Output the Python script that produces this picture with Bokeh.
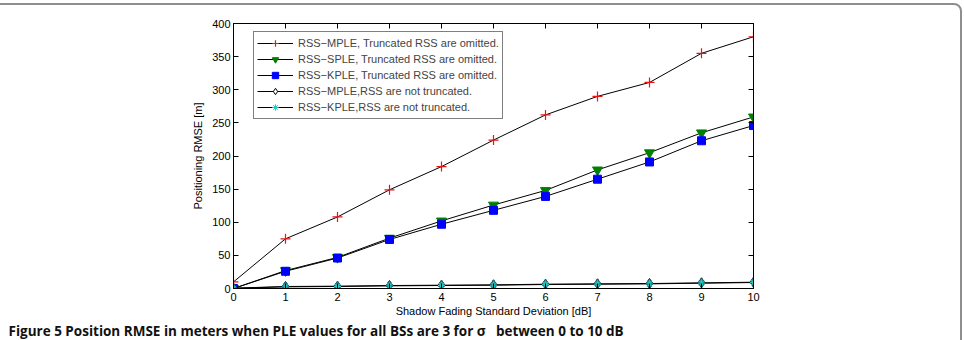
from bokeh.plotting import figure
from bokeh.models import (ColumnDataSource, Range1d, LinearAxis, FixedTicker, Legend,
                          LegendItem, Title, CustomJSTickFormatter, GlobalInlineStyleSheet)
from bokeh.embed import file_html
from bokeh.resources import INLINE

# ---------------- data ----------------
sigma_db = [0, 1, 2, 3, 4, 5, 6, 7, 8, 9, 10]
rmse_mple_trunc = [10, 75, 108, 149, 184, 224, 262, 290, 311, 355, 380]
rmse_sple_trunc = [0, 27, 47, 76, 102, 126, 148, 179, 205, 235, 259]
rmse_kple_trunc = [0, 26, 46, 74, 97, 118, 139, 165, 191, 223, 246]
rmse_mple_full = [0.5, 3, 3.5, 4.5, 5, 5.5, 6.5, 7, 7.5, 8.5, 9.5]
rmse_kple_full = [0.3, 2.5, 3, 4, 4.5, 5, 6, 6.5, 7, 8, 9]

x_ticks = [0, 1, 2, 3, 4, 5, 6, 7, 8, 9, 10]
y_ticks = [0, 50, 100, 150, 200, 250, 300, 350, 400]

legend_labels = [
    "RSS\u2212MPLE, Truncated RSS are omitted.",
    "RSS\u2212SPLE, Truncated RSS are omitted.",
    "RSS\u2212KPLE, Truncated RSS are omitted.",
    "RSS\u2212MPLE,RSS are not truncated.",
    "RSS\u2212KPLE,RSS are not truncated.",
]
x_label = "Shadow Fading Standard Deviation [dB]"
y_label = "Positioning RMSE [m]"
caption = "Figure 5 Position RMSE in meters when PLE values for all BSs are 3 for \u03c3\u2002 between 0 to 10 dB"

# ---------------- layout geometry ----------------
W, H = 964, 340
F_LEFT, F_RIGHT, F_TOP, F_BOTTOM = 233, 211, 23, 51
X0, X1, Y0, Y1 = 0, 10, 0, 400
FONT = "Liberation Sans"

p = figure(width=W, height=H, x_range=Range1d(X0, X1), y_range=Range1d(Y0, Y1),
           output_backend="svg", toolbar_location=None,
           min_border_left=F_LEFT, min_border_right=F_RIGHT,
           min_border_top=F_TOP, min_border_bottom=F_BOTTOM,
           background_fill_color="white", border_fill_color="white",
           outline_line_color="black")
p.grid.visible = False

# rounded page frame (top and right edges visible in the reference)
p.stylesheets = [GlobalInlineStyleSheet(css="""
html, body { margin: 0; overflow: hidden; }
body::after {
  content: "";
  position: fixed;
  top: 3px; right: 2px; bottom: -30px; left: -8px;
  box-sizing: border-box;
  border: 2px solid #8e8e8e;
  border-radius: 8px;
  pointer-events: none;
  z-index: 10;
}
""")]


def style_axis(ax, ticks, show_labels=True):
    ax.ticker = FixedTicker(ticks=ticks)
    ax.major_tick_in = 5
    ax.major_tick_out = 0
    ax.minor_tick_line_color = None
    ax.axis_line_color = "black"
    ax.axis_line_width = 1
    ax.major_tick_line_color = "black"
    ax.major_label_text_font = FONT
    ax.major_label_text_font_size = "11px"
    ax.major_label_text_color = "black"
    ax.axis_label_text_font = FONT
    ax.axis_label_text_font_size = "11px"
    ax.axis_label_text_font_style = "normal"
    ax.axis_label_text_color = "black"
    if not show_labels:
        ax.formatter = CustomJSTickFormatter(code="return ''")


xa = p.xaxis[0]
ya = p.yaxis[0]
style_axis(xa, x_ticks)
style_axis(ya, y_ticks)
xa.axis_label = x_label
ya.axis_label = y_label
xa.major_label_standoff = 4
ya.major_label_standoff = 3
xa.axis_label_standoff = 1
ya.axis_label_standoff = 5

top_ax = LinearAxis()
style_axis(top_ax, x_ticks, show_labels=False)
p.add_layout(top_ax, "above")
right_ax = LinearAxis()
style_axis(right_ax, y_ticks, show_labels=False)
p.add_layout(right_ax, "right")

# ---------------- series ----------------
items = []


def series(values, marker, size, fill, line, label, lw=1, overlay_fill=None):
    src = ColumnDataSource(dict(x=sigma_db, y=values))
    ln = p.line("x", "y", source=src, line_color="black", line_width=1)
    mk = p.scatter("x", "y", source=src, marker=marker, size=size,
                   fill_color=fill, line_color=line, line_width=lw)
    if overlay_fill is not None:
        p.scatter("x", "y", source=src, marker=marker, size=size,
                  fill_color=overlay_fill, line_color="#1f5f5f", line_width=lw)
    items.append(LegendItem(label=label, renderers=[ln, mk]))


series(rmse_mple_trunc, "cross", 10, None, "#ee1111", legend_labels[0], lw=1.2)
series(rmse_sple_trunc, "inverted_triangle", 10, "#008000", "#008000", legend_labels[1])
series(rmse_kple_trunc, "square", 8, "#0000ff", "#0000ff", legend_labels[2])
series(rmse_mple_full, "diamond", 10, "white", "black", legend_labels[3], overlay_fill="#2aa3a3")
series(rmse_kple_full, "asterisk", 7, None, "#22cccc", legend_labels[4], lw=1)

legend = Legend(items=items, location=(20, 169),
                border_line_color="black", border_line_width=1,
                background_fill_color="white", background_fill_alpha=1,
                padding=3, spacing=0, margin=0,
                label_text_font=FONT, label_text_font_size="11px",
                label_height=16, glyph_height=16, glyph_width=36, label_standoff=5)
p.add_layout(legend)

# ---------------- caption ----------------
cap = Title(text=caption, align="left", offset=8 - F_LEFT, standoff=1,
            vertical_align="bottom",
            text_font="Open Sans", text_font_size="13.5px", text_font_style="bold",
            text_color="#111111")
p.add_layout(cap, "below")

open("out.html", "w").write(file_html(p, INLINE))
